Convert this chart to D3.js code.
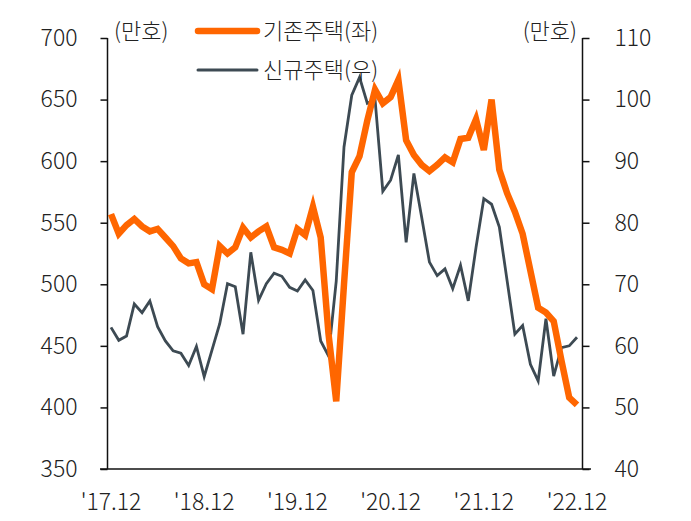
<!DOCTYPE html>
<html>
<head>
<meta charset="utf-8">
<script src="https://cdn.jsdelivr.net/npm/d3@7"></script>
<style>
  body { margin: 0; background: #fff; }
  svg text { font-family: "Noto Sans CJK KR", "Noto Sans", sans-serif; font-weight: 300; fill: #222; }
</style>
</head>
<body>
<div id="chart"></div>
<script>
'use strict';

// monthly, '17.12 ~ '22.12
var xLabels = ["'17.12", "'18.12", "'19.12", "'20.12", "'21.12", "'22.12"];

// 기존주택 (좌, 만호)
var existing = [
  557, 541, 548, 553, 547, 543, 545, 538, 531, 521, 517, 518,
  500, 496, 531, 525, 530, 546, 538, 543, 547, 530, 528, 525,
  545, 540, 563, 538, 460, 405, 500, 591, 604, 633, 658, 647,
  652, 666, 617, 605, 597, 592, 597, 603, 599, 618, 619, 634,
  609, 650, 593, 574, 559, 541, 511, 481, 477, 470, 438, 408, 402
];

// 신규주택 (우, 만호)
var newHomes = [
  63.0, 60.9, 61.6, 66.8, 65.4, 67.3, 63.1, 60.8, 59.2, 58.8, 56.8, 59.9,
  55.0, 59.3, 63.6, 70.1, 69.6, 61.9, 75.2, 67.4, 70.1, 71.8, 71.3, 69.5,
  68.9, 70.7, 69.0, 60.8, 58.4, 70.5, 92.3, 100.7, 103.6, 99.4, 100.0, 85.1,
  86.9, 91.0, 76.8, 88.0, 80.9, 73.6, 71.4, 72.5, 69.3, 73.1, 67.3, 76.0,
  83.9, 83.0, 79.3, 70.6, 61.9, 63.3, 57.0, 54.3, 64.4, 55.1, 59.7, 60.0, 61.4
];

var leftTicks = [350, 400, 450, 500, 550, 600, 650, 700];
var rightTicks = [40, 50, 60, 70, 80, 90, 100, 110];

var W = 691, H = 521;
var axL = 107.5, axR = 582.5, plotTop = 38, plotBottom = 469;
var orange = '#ff6600', slate = '#3d4a53';

var svg = d3.select('#chart').append('svg')
  .attr('width', W)
  .attr('height', H);

var x = d3.scaleLinear().domain([0, 60]).range([111, 577]);
var yL = d3.scaleLinear().domain([350, 700]).range([plotBottom, plotTop]);
var yR = d3.scaleLinear().domain([40, 110]).range([plotBottom, plotTop]);

// axes
var leftAxis = d3.axisLeft(yL).tickValues(leftTicks).tickSize(7).tickPadding(23);
var rightAxis = d3.axisRight(yR).tickValues(rightTicks).tickSize(7).tickPadding(25);

var gl = svg.append('g').attr('transform', 'translate(' + axL + ',0)').call(leftAxis);
var gr = svg.append('g').attr('transform', 'translate(' + axR + ',0)').call(rightAxis);
[gl, gr].forEach(function (g) {
  g.select('.domain').attr('d', 'M0,' + plotTop + 'V' + plotBottom).attr('stroke', '#111').attr('stroke-width', 1.5);
  g.selectAll('.tick line').attr('stroke', '#111').attr('stroke-width', 1.5);
  g.selectAll('.tick text').style('font-size', '23px').attr('fill', '#222');
});

// bottom axis line
svg.append('line')
  .attr('x1', 100).attr('x2', 591)
  .attr('y1', plotBottom).attr('y2', plotBottom)
  .attr('stroke', '#111').attr('stroke-width', 1.5);

svg.selectAll('.xlab').data(xLabels).enter()
  .append('text')
  .attr('class', 'xlab')
  .attr('x', function (d, i) { return x(i * 12); })
  .attr('y', 510)
  .attr('text-anchor', 'middle')
  .style('font-size', '23px')
  .text(function (d) { return d; });

// lines
var lineL = d3.line()
  .x(function (d, i) { return x(i); })
  .y(function (d) { return yL(d); });
var lineR = d3.line()
  .x(function (d, i) { return x(i); })
  .y(function (d) { return yR(d); });

svg.append('path')
  .attr('d', lineR(newHomes))
  .attr('fill', 'none')
  .attr('stroke', slate)
  .attr('stroke-width', 2.8)
  .attr('stroke-linejoin', 'miter');

svg.append('path')
  .attr('d', lineL(existing))
  .attr('fill', 'none')
  .attr('stroke', orange)
  .attr('stroke-width', 6.5)
  .attr('stroke-linejoin', 'miter');

// unit labels
svg.append('text').attr('x', 114).attr('y', 39).style('font-size', '22px').text('(만호)');
svg.append('text').attr('x', 577).attr('y', 39).attr('text-anchor', 'end').style('font-size', '22px').text('(만호)');

// legend
var legend = [
  {name: '기존주택(좌)', color: orange, width: 6.5, y: 31},
  {name: '신규주택(우)', color: slate, width: 3, y: 70}
];
var lg = svg.append('g');
lg.selectAll('line').data(legend).enter()
  .append('line')
  .attr('x1', 198).attr('x2', 257)
  .attr('y1', function (d) { return d.y; })
  .attr('y2', function (d) { return d.y; })
  .attr('stroke', function (d) { return d.color; })
  .attr('stroke-width', function (d) { return d.width; })
  .attr('stroke-linecap', 'round');
lg.selectAll('text').data(legend).enter()
  .append('text')
  .attr('x', 263)
  .attr('y', function (d) { return d.y + 8; })
  .style('font-size', '22px')
  .text(function (d) { return d.name; });
</script>
</body>
</html>
